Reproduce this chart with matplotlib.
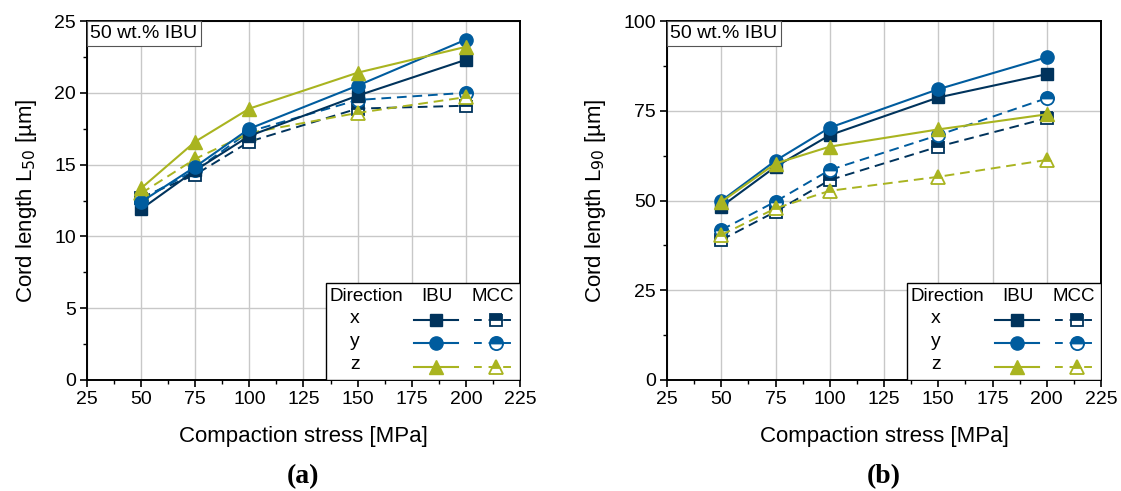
import matplotlib
matplotlib.use("Agg")
import matplotlib.pyplot as plt
from matplotlib.lines import Line2D
from matplotlib.patches import Rectangle
from matplotlib.ticker import MultipleLocator

plt.rcParams['font.family'] = ['Liberation Sans', 'DejaVu Sans']

stress = [50, 75, 100, 150, 200]
directions = ['x', 'y', 'z']

# Panel (a): L50 [µm]
l50_ibu = {
    'x': [11.9, 14.6, 17.0, 19.8, 22.3],
    'y': [12.4, 14.85, 17.5, 20.5, 23.7],
    'z': [13.35, 16.6, 18.9, 21.4, 23.2],
}
l50_mcc = {
    'x': [12.7, 14.3, 16.6, 18.9, 19.1],
    'y': [12.6, 14.6, 17.3, 19.5, 20.0],
    'z': [13.0, 15.4, 17.2, 18.6, 19.7],
}
# Panel (b): L90 [µm]
l90_ibu = {
    'x': [48.3, 59.4, 68.2, 78.7, 85.2],
    'y': [49.9, 61.1, 70.3, 81.0, 89.9],
    'z': [49.6, 60.3, 65.0, 69.8, 74.0],
}
l90_mcc = {
    'x': [39.0, 46.9, 55.7, 65.0, 72.9],
    'y': [41.8, 49.7, 58.5, 68.2, 78.5],
    'z': [40.4, 47.8, 52.7, 56.6, 61.3],
}

x_ticks = [25, 50, 75, 100, 125, 150, 175, 200, 225]

colors = {'x': '#00335c', 'y': '#005c9e', 'z': '#a9b420'}
markers = {'x': 's', 'y': 'o', 'z': '^'}
msize = {'x': 9, 'y': 9.5, 'z': 10.5}

W, H = 1121, 491
fig = plt.figure(figsize=(W / 100, H / 100), dpi=100)


def px_axes(x0, x1, y0, y1):
    return [x0 / W, 1 - y1 / H, (x1 - x0) / W, (y1 - y0) / H]


def draw_panel(ax, ibu, mcc, ymax, ymajor, yminor, ylabel, letter):
    for d in directions:
        c = colors[d]
        ax.plot(stress, mcc[d], linestyle=(0, (5, 3)), color=c, lw=1.4,
                marker=markers[d], ms=msize[d], fillstyle='top',
                markerfacecolor=c, markerfacecoloralt='white',
                markeredgecolor=c, markeredgewidth=1.3, zorder=3)
    for d in directions:
        c = colors[d]
        ax.plot(stress, ibu[d], linestyle='-', color=c, lw=1.5,
                marker=markers[d], ms=msize[d], markerfacecolor=c,
                markeredgecolor=c, zorder=4)

    ax.set_xlim(25, 225)
    ax.set_ylim(0, ymax)
    ax.set_xticks(x_ticks)
    ax.xaxis.set_minor_locator(MultipleLocator(12.5))
    ax.yaxis.set_major_locator(MultipleLocator(ymajor))
    ax.yaxis.set_minor_locator(MultipleLocator(yminor))
    ax.grid(True, which='major', color='#c8c8c8', lw=1.0)
    ax.set_axisbelow(True)
    ax.tick_params(which='major', direction='out', length=5, width=1.2,
                   labelsize=14, top=False, right=False, pad=3)
    ax.tick_params(which='minor', direction='out', length=3, width=1.0,
                   top=False, right=False)
    for s in ax.spines.values():
        s.set_linewidth(1.4)
    ax.set_xlabel('Compaction stress [MPa]', fontsize=16, labelpad=13)
    ax.set_ylabel(ylabel, fontsize=16, labelpad=11)

    ax.annotate('50 wt.% IBU', xy=(0, 1), xycoords='axes fraction',
                xytext=(2.5, -3), textcoords='offset points', fontsize=14,
                ha='left', va='top', zorder=6,
                bbox=dict(boxstyle='square,pad=0.2', fc='white', ec='#555555', lw=0.8))

    # table-like legend
    tr = ax.transAxes
    ax.add_patch(Rectangle((0.553, 0.0), 0.447, 0.271, transform=tr,
                           fc='white', ec='black', lw=1.0, zorder=6))
    hy = 0.232
    ax.text(0.646, hy, 'Direction', transform=tr, fontsize=13.5,
            ha='center', va='center', zorder=7)
    ax.text(0.808, hy, 'IBU', transform=tr, fontsize=13.5,
            ha='center', va='center', zorder=7)
    ax.text(0.937, hy, 'MCC', transform=tr, fontsize=13.5,
            ha='center', va='center', zorder=7)
    rows = [0.167, 0.103, 0.037]
    for d, yy in zip(directions, rows):
        c = colors[d]
        ax.text(0.619, yy + 0.005, d, transform=tr, fontsize=14,
                ha='center', va='center', zorder=7)
        ax.add_line(Line2D([0.755, 0.857], [yy, yy], transform=tr, color=c,
                           lw=1.5, zorder=7))
        ax.add_line(Line2D([0.806], [yy], transform=tr, color=c,
                           marker=markers[d], ms=msize[d], markerfacecolor=c,
                           markeredgecolor=c, zorder=8))
        ax.add_line(Line2D([0.894, 0.993], [yy, yy], transform=tr, color=c,
                           lw=1.4, linestyle=(0, (4, 3.5)), zorder=7))
        ax.add_line(Line2D([0.944], [yy], transform=tr, color=c,
                           marker=markers[d], ms=msize[d], fillstyle='top',
                           markerfacecolor=c, markerfacecoloralt='white',
                           markeredgecolor=c, markeredgewidth=1.3, zorder=8))

    ax.text(0.5, -0.235, letter, transform=tr, fontsize=20, fontweight='bold',
            family=['Liberation Serif', 'DejaVu Serif'], ha='center', va='top')


ax_a = fig.add_axes(px_axes(87, 520, 21, 380))
draw_panel(ax_a, l50_ibu, l50_mcc, 25, 5, 2.5,
           r'Cord length L$_{50}$ [µm]', '(a)')
ax_b = fig.add_axes(px_axes(667, 1101, 21, 380))
draw_panel(ax_b, l90_ibu, l90_mcc, 100, 25, 12.5,
           r'Cord length L$_{90}$ [µm]', '(b)')

fig.savefig('out.png', dpi=100)
